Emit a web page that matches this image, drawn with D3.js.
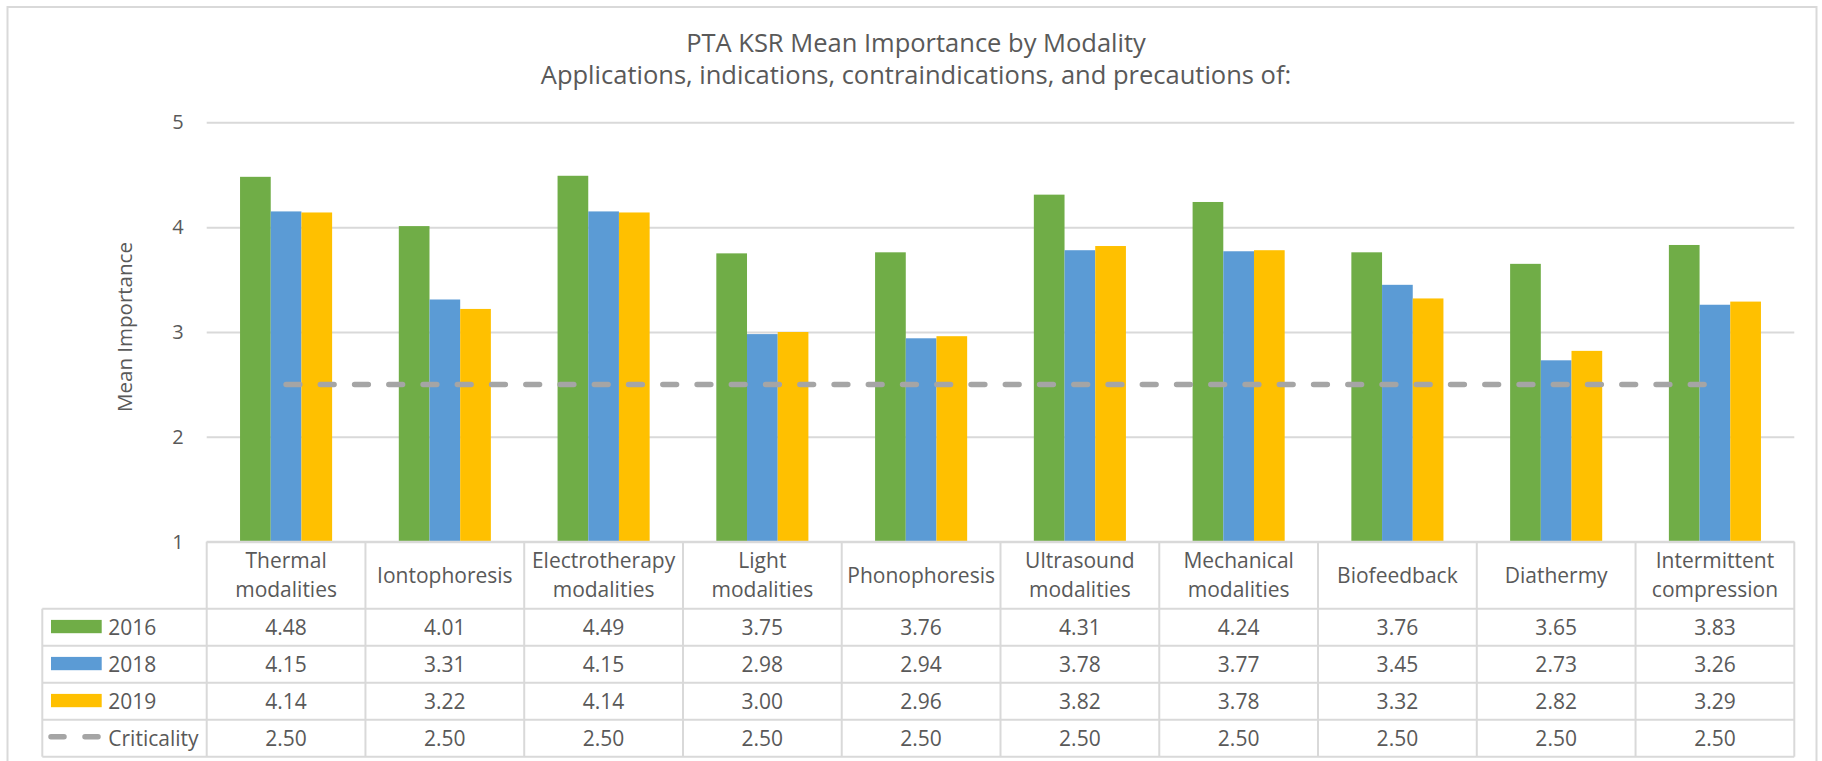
<!DOCTYPE html>
<html>
<head>
<meta charset="utf-8">
<script src="https://cdn.jsdelivr.net/npm/d3@7"></script>
<style>
  body { margin: 0; background: #fff; }
  svg { display: block; font-family: 'Open Sans', sans-serif; }
  .chart-title { font-size: 25.5px; fill: #595959; text-anchor: middle; }
  .axis text { font-size: 20px; fill: #595959; font-family: 'Open Sans', sans-serif; }
  .axis line { stroke: #d9d9d9; stroke-width: 2; }
  .axis-title { font-size: 20.5px; fill: #595959; text-anchor: middle; }
  .cell-text { font-size: 21px; fill: #595959; }
  .table-line { stroke: #d9d9d9; stroke-width: 2; }
  .crit-line { fill: none; stroke: #a5a5a5; stroke-width: 5.5; stroke-linecap: round; }
</style>
</head>
<body>
<div id="chart"></div>
<script>
const categories = [
  'Thermal\nmodalities', 'Iontophoresis', 'Electrotherapy\nmodalities', 'Light\nmodalities',
  'Phonophoresis', 'Ultrasound\nmodalities', 'Mechanical\nmodalities', 'Biofeedback',
  'Diathermy', 'Intermittent\ncompression'
];
const values2016 = [4.48, 4.01, 4.49, 3.75, 3.76, 4.31, 4.24, 3.76, 3.65, 3.83];
const values2018 = [4.15, 3.31, 4.15, 2.98, 2.94, 3.78, 3.77, 3.45, 2.73, 3.26];
const values2019 = [4.14, 3.22, 4.14, 3.00, 2.96, 3.82, 3.78, 3.32, 2.82, 3.29];
const criticality = [2.50, 2.50, 2.50, 2.50, 2.50, 2.50, 2.50, 2.50, 2.50, 2.50];
const yTicks = [1, 2, 3, 4, 5];

const seriesNames = ['2016', '2018', '2019'];
const seriesColors = ['#70ad47', '#5b9bd5', '#ffc000'];

class BarTableChart {

  constructor(_config) {
    this.config = {
      parentElement: _config.parentElement,
      containerWidth: 1822,
      containerHeight: 761,
      margin: {top: 122.3, right: 27.7, bottom: 219.3, left: 206.7},
      tableLeft: 42.3,
      headerHeight: 67,
      rowHeight: 37
    };
    this.initVis();
  }

  initVis() {
    let vis = this;
    const c = vis.config;
    c.width = c.containerWidth - c.margin.left - c.margin.right;
    c.height = c.containerHeight - c.margin.top - c.margin.bottom;

    vis.svg = d3.select(c.parentElement).append('svg')
        .attr('width', c.containerWidth)
        .attr('height', c.containerHeight);

    // outer frame
    vis.svg.append('rect')
        .attr('x', 7.5).attr('y', 7)
        .attr('width', 1809).attr('height', 780)
        .attr('fill', 'none')
        .attr('stroke', '#d9d9d9')
        .attr('stroke-width', 2);

    vis.svg.append('text')
        .attr('class', 'chart-title')
        .attr('x', 916).attr('y', 52)
        .text('PTA KSR Mean Importance by Modality');
    vis.svg.append('text')
        .attr('class', 'chart-title')
        .attr('x', 916).attr('y', 84)
        .text('Applications, indications, contraindications, and precautions of:');

    vis.chart = vis.svg.append('g')
        .attr('transform', `translate(${c.margin.left},${c.margin.top})`);

    vis.xScale = d3.scaleBand()
        .domain(categories)
        .range([0, c.width])
        .paddingInner(0.42)
        .paddingOuter(0.21);

    vis.xSub = d3.scaleBand()
        .domain(seriesNames)
        .range([0, vis.xScale.bandwidth()]);

    vis.yScale = d3.scaleLinear()
        .domain([1, 5])
        .range([c.height, 0]);

    vis.yAxis = d3.axisLeft(vis.yScale)
        .tickValues(yTicks)
        .tickSize(-c.width)
        .tickPadding(23)
        .tickFormat(d3.format('d'));

    vis.yAxisG = vis.chart.append('g').attr('class', 'axis y-axis');

    vis.chart.append('text')
        .attr('class', 'axis-title')
        .attr('transform', `translate(${125 - c.margin.left},${327 - c.margin.top}) rotate(-90)`)
        .attr('dy', '0.35em')
        .text('Mean Importance');

    vis.renderVis();
  }

  renderVis() {
    let vis = this;
    const c = vis.config;

    vis.yAxisG.call(vis.yAxis)
        .call(g => g.select('.domain').remove());

    const seriesData = [values2016, values2018, values2019];

    // bars
    const groups = vis.chart.selectAll('.cat-group')
        .data(categories)
      .join('g')
        .attr('class', 'cat-group')
        .attr('transform', d => `translate(${vis.xScale(d)},0)`);

    groups.selectAll('.bar')
        .data((d, i) => seriesNames.map((s, j) => ({series: s, value: seriesData[j][i], color: seriesColors[j]})))
      .join('rect')
        .attr('class', 'bar')
        .attr('x', d => vis.xSub(d.series))
        .attr('width', vis.xSub.bandwidth())
        .attr('y', d => vis.yScale(d.value))
        .attr('height', d => vis.yScale(1) - vis.yScale(d.value))
        .attr('fill', d => d.color);

    // criticality line
    const center = d => vis.xScale(d) + vis.xScale.bandwidth() / 2;
    const line = d3.line()
        .x((d, i) => center(categories[i]))
        .y(d => vis.yScale(d));

    vis.chart.append('path')
        .datum(criticality)
        .attr('class', 'crit-line')
        .attr('stroke-dasharray', '13.75 20.5')
        .attr('d', line);

    // data table below the plot
    const step = vis.xScale.step();
    const table = vis.chart.append('g')
        .attr('transform', `translate(0,${c.height})`);
    const legendX = c.tableLeft - c.margin.left;
    const rowsTop = c.headerHeight;
    const tableBottom = rowsTop + 4 * c.rowHeight;

    // horizontal lines
    table.append('line').attr('class', 'table-line')
        .attr('x1', 0).attr('x2', c.width).attr('y1', 0).attr('y2', 0);
    d3.range(5).forEach(r => {
      table.append('line').attr('class', 'table-line')
          .attr('x1', legendX).attr('x2', c.width)
          .attr('y1', rowsTop + r * c.rowHeight).attr('y2', rowsTop + r * c.rowHeight);
    });
    // vertical lines
    d3.range(categories.length + 1).forEach(k => {
      table.append('line').attr('class', 'table-line')
          .attr('x1', k * step).attr('x2', k * step)
          .attr('y1', 0).attr('y2', tableBottom);
    });
    table.append('line').attr('class', 'table-line')
        .attr('x1', legendX).attr('x2', legendX)
        .attr('y1', rowsTop).attr('y2', tableBottom);

    // header labels
    const header = table.selectAll('.header')
        .data(categories)
      .join('text')
        .attr('class', 'cell-text header')
        .attr('text-anchor', 'middle')
        .attr('x', d => center(d))
        .attr('y', c.headerHeight / 2);
    header.each(function(d) {
      const lines = d.split('\n');
      const t = d3.select(this);
      lines.forEach((ln, i) => {
        t.append('tspan')
            .attr('x', center(d))
            .attr('dy', i === 0 ? `${0.35 - (lines.length - 1) * 0.69}em` : '1.38em')
            .text(ln);
      });
    });

    // rows
    const rows = [
      {label: '2016', values: values2016, color: seriesColors[0], type: 'bar'},
      {label: '2018', values: values2018, color: seriesColors[1], type: 'bar'},
      {label: '2019', values: values2019, color: seriesColors[2], type: 'bar'},
      {label: 'Criticality', values: criticality, color: '#a5a5a5', type: 'line'}
    ];

    const rowG = table.selectAll('.row')
        .data(rows)
      .join('g')
        .attr('class', 'row')
        .attr('transform', (d, i) => `translate(0,${rowsTop + (i + 0.5) * c.rowHeight})`);

    rowG.filter(d => d.type === 'bar').append('rect')
        .attr('x', legendX + 8.7)
        .attr('y', -7.3)
        .attr('width', 50.7)
        .attr('height', 13.3)
        .attr('fill', d => d.color);

    rowG.filter(d => d.type === 'line').append('line')
        .attr('class', 'crit-line')
        .attr('x1', legendX + 8.7).attr('x2', legendX + 56.7)
        .attr('y1', -1.5).attr('y2', -1.5)
        .attr('stroke-dasharray', '13 21');

    rowG.append('text')
        .attr('class', 'cell-text')
        .attr('x', legendX + 66)
        .attr('dy', '0.35em')
        .text(d => d.label);

    rowG.selectAll('.val')
        .data(d => d.values)
      .join('text')
        .attr('class', 'cell-text val')
        .attr('text-anchor', 'middle')
        .attr('x', (d, i) => center(categories[i]))
        .attr('dy', '0.35em')
        .text(d => d.toFixed(2));
  }
}

new BarTableChart({parentElement: '#chart'});
</script>
</body>
</html>
